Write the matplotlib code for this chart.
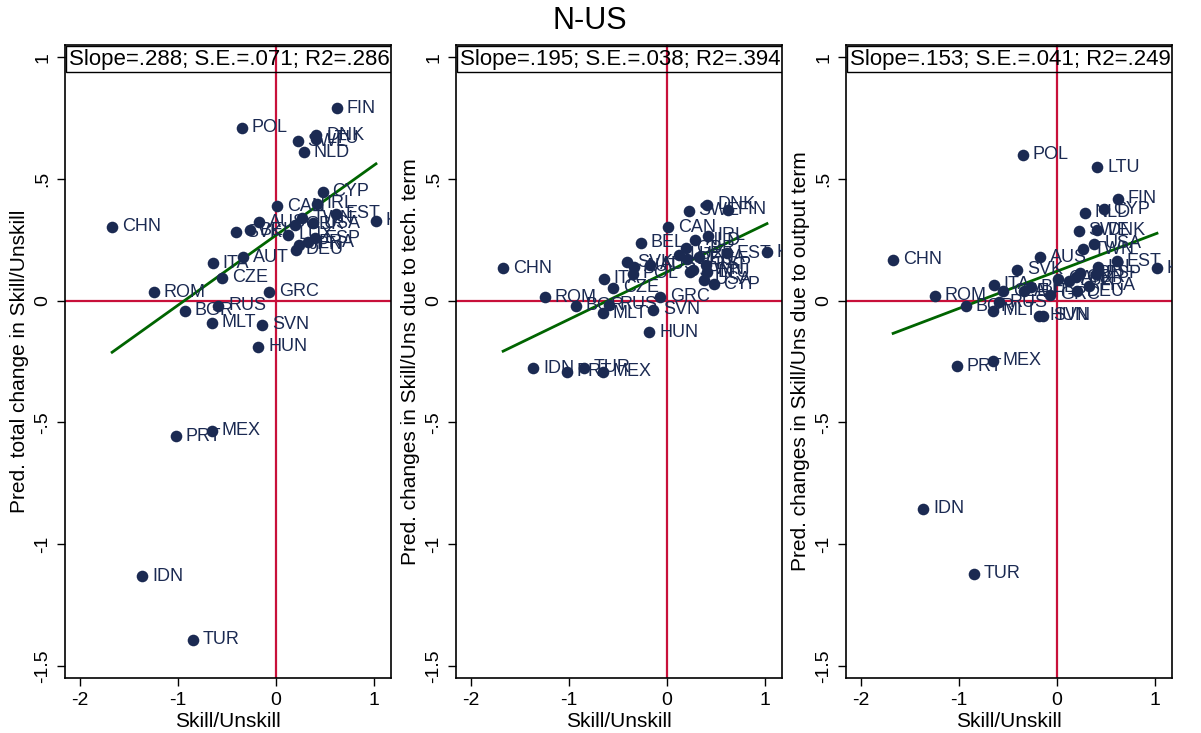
import numpy as np
import matplotlib
matplotlib.use('Agg')
import matplotlib.pyplot as plt

# valores (x comum aos tres paineis)
countries = ['FIN', 'POL', 'DNK', 'LTU', 'SWE', 'NLD', 'CHN', 'CYP', 'CAN', 'IRL',
             'TWN', 'EST', 'KOR', 'USA', 'GBR', 'AUS', 'BEL', 'SVK', 'LUX', 'ESP',
             'FRA', 'JPN', 'DEU', 'AUT', 'ITA', 'CZE', 'GRC', 'ROM', 'RUS', 'BGR',
             'MLT', 'SVN', 'HUN', 'MEX', 'PRT', 'IDN', 'TUR']
skill = [0.62, -0.35, 0.41, 0.41, 0.22, 0.285, -1.67, 0.475, 0.01, 0.414,
         0.268, 0.61, 1.017, 0.38, 0.193, -0.176, -0.264, -0.404, 0.125, 0.397,
         0.329, 0.237, 0.203, -0.339, -0.644, -0.552, -0.068, -1.248, -0.587, -0.933,
         -0.654, -0.139, -0.18, -0.654, -1.02, -1.363, -0.847]
total = [0.79, 0.71, 0.68, 0.665, 0.655, 0.61, 0.304, 0.448, 0.387, 0.397,
         0.338, 0.356, 0.329, 0.318, 0.312, 0.322, 0.29, 0.28, 0.271, 0.257,
         0.24, 0.23, 0.208, 0.178, 0.153, 0.093, 0.037, 0.034, -0.021, -0.041,
         -0.09, -0.099, -0.189, -0.534, -0.557, -1.132, -1.393]
tech = [0.373, 0.11, 0.394, 0.117, 0.37, 0.249, 0.134, 0.068, 0.301, 0.267,
        0.126, 0.194, 0.198, 0.085, 0.216, 0.148, 0.237, 0.157, 0.189, 0.147,
        0.178, 0.118, 0.17, 0.14, 0.089, 0.052, 0.016, 0.014, -0.016, -0.021,
        -0.051, -0.037, -0.13, -0.292, -0.292, -0.278, -0.276]
output = [0.418, 0.6, 0.29, 0.548, 0.287, 0.36, 0.167, 0.376, 0.089, 0.137,
          0.212, 0.161, 0.133, 0.233, 0.096, 0.178, 0.055, 0.126, 0.082, 0.11,
          0.062, 0.112, 0.038, 0.038, 0.066, 0.038, 0.025, 0.021, -0.007, -0.023,
          -0.041, -0.062, -0.062, -0.246, -0.27, -0.854, -1.121]

slopes = [0.288, 0.195, 0.153]
intercepts = [0.269, 0.118, 0.121]
stats = ['Slope=.288; S.E.=.071; R2=.286',
         'Slope=.195; S.E.=.038; R2=.394',
         'Slope=.153; S.E.=.041; R2=.249']
ylabels = ['Pred. total change in Skill/Unskill',
           'Pred. changes in Skill/Uns due to tech. term',
           'Pred. changes in Skill/Uns due to output term']
xticks = [-2, -1, 0, 1]
xticklabels = ['-2', '-1', '0', '1']
yticks = [-1.5, -1, -0.5, 0, 0.5, 1]
yticklabels = ['-1.5', '-1', '-.5', '0', '.5', '1']

NAVY = '#1b2a52'
RED = '#c8103a'
GREEN = '#006400'

plt.rcParams['font.family'] = ['Liberation Sans', 'DejaVu Sans']

W, H = 1201, 733
fig = plt.figure(figsize=(W / 100, H / 100), dpi=100)
fig.patch.set_facecolor('white')

lefts = [65, 456, 846]
top, bottom, width = 45, 678, 326
x = np.array(skill)

for i, yv in enumerate([total, tech, output]):
    ax = fig.add_axes([lefts[i] / W, 1 - bottom / H, width / W, (bottom - top) / H])
    ax.set_xlim(-2.15, 1.17)
    ax.set_ylim(-1.55, 1.05)

    ax.axvline(0, color=RED, lw=1.6, zorder=1)
    ax.axhline(0, color=RED, lw=1.6, zorder=1)

    xx = np.array([x.min(), x.max()])
    ax.plot(xx, intercepts[i] + slopes[i] * xx, color=GREEN, lw=2, zorder=2)

    ax.scatter(x, yv, s=70, color=NAVY, linewidths=0, zorder=3)
    for c, px, py in zip(countries, x, yv):
        ax.annotate(c, (px, py), xytext=(7, 0), textcoords='offset points',
                    va='center', ha='left', fontsize=13, color=NAVY,
                    clip_on=True, zorder=4)

    ax.text(0.012, 0.994, stats[i], transform=ax.transAxes, va='top', ha='left',
            fontsize=16, clip_on=True,
            bbox=dict(boxstyle='square,pad=0.12', fc='none', ec='black', lw=1))

    ax.set_xticks(xticks)
    ax.set_xticklabels(xticklabels)
    ax.set_yticks(yticks)
    ax.set_yticklabels(yticklabels, rotation=90, va='center')
    ax.tick_params(direction='out', length=6, width=1, labelsize=14, pad=4)
    for s in ax.spines.values():
        s.set_linewidth(1.2)
    ax.set_xlabel('Skill/Unskill', fontsize=15, labelpad=2)
    ax.set_ylabel(ylabels[i], fontsize=15, labelpad=4)

fig.text(0.491, 0.972, 'N-US', ha='center', va='center', fontsize=22)

plt.savefig('out.png', dpi=100)
plt.close()
